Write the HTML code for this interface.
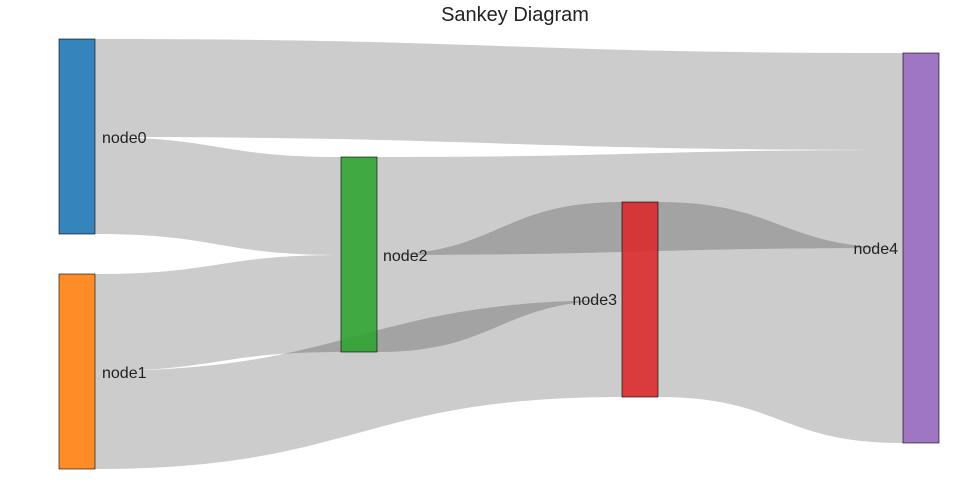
<!DOCTYPE html>
<html><head><meta charset="utf-8"><style>
html,body{margin:0;padding:0;background:#fff;width:960px;height:500px;overflow:hidden}
text{font-family:"Liberation Sans",sans-serif;fill:#222}
</style></head><body>
<svg width="960" height="500" viewBox="0 0 960 500">
<g fill="rgba(0,0,0,0.2)">
<path d="M95,39 C499,39 499,53 903,53 L903,150 C499,150 499,137 95,137 Z"/>
<path d="M95,137 C218,137 218,157 341,157 L341,255 C218,255 218,234 95,234 Z"/>
<path d="M95,274 C218,274 218,255 341,255 L341,352 C218,352 218,371 95,371 Z"/>
<path d="M95,371 C358,371 358,300 622,300 L622,397 C358,397 358,469 95,469 Z"/>
<path d="M377,157 C640,157 640,150 903,150 L903,248 C640,248 640,255 377,255 Z"/>
<path d="M377,255 C499,255 499,202 622,202 L622,300 C499,300 499,352 377,352 Z"/>
<path d="M658,202 C780,202 780,248 903,248 L903,443 C780,443 780,397 658,397 Z"/>
</g>
<g stroke="#000" stroke-width="0.6" fill-opacity="0.9">
<rect x="59" y="39" width="36" height="195" fill="#1f77b4"/>
<rect x="59" y="274" width="36" height="195" fill="#ff7f0e"/>
<rect x="341" y="157" width="36" height="195" fill="#2ca02c"/>
<rect x="622" y="202" width="36" height="195" fill="#d62728"/>
<rect x="903" y="53" width="36" height="390" fill="#9467bd"/>
</g>
<g font-size="16">
<text x="102" y="143">node0</text>
<text x="102" y="378">node1</text>
<text x="383" y="261">node2</text>
<text x="617" y="305" text-anchor="end">node3</text>
<text x="898" y="254" text-anchor="end">node4</text>
</g>
<text x="515" y="21" font-size="20" text-anchor="middle">Sankey Diagram</text>
</svg>
</body></html>
